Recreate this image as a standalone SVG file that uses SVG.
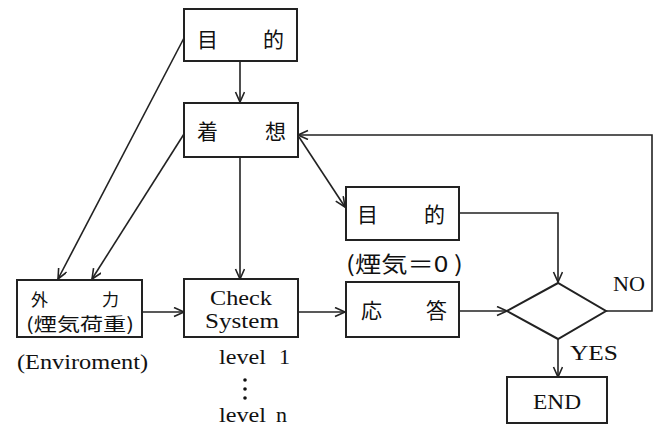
<svg xmlns="http://www.w3.org/2000/svg" width="657" height="426" viewBox="0 0 657 426">
<style>
.box{fill:#fff;stroke:#222;stroke-width:2}
.ln{fill:none;stroke:#222;stroke-width:1.6;marker-end:url(#ah)}
.jp{font-family:"Noto Sans CJK JP","Noto Sans CJK SC",sans-serif;fill:#111;dominant-baseline:central}
.en{font-family:"Liberation Serif","DejaVu Serif",serif;fill:#111}
</style>
<defs>
<marker id="ah" markerUnits="userSpaceOnUse" markerWidth="14" markerHeight="12" refX="11" refY="5" orient="auto">
<path d="M1,0.5 L11,5 L1,9.5" fill="none" stroke="#222" stroke-width="1.6"/>
</marker>
</defs>
<rect width="657" height="426" fill="#fff"/>
<g id="connectors">
<line class="ln" x1="240" y1="61" x2="240" y2="102"/>
<line class="ln" x1="184" y1="38" x2="58" y2="279"/>
<line class="ln" x1="184" y1="134" x2="92" y2="279"/>
<line class="ln" x1="240" y1="157" x2="240" y2="279"/>
<line class="ln" x1="299" y1="137" x2="345" y2="207"/>
<line class="ln" x1="142" y1="312" x2="184" y2="312"/>
<line class="ln" x1="298" y1="312" x2="345" y2="312"/>
<line class="ln" x1="459" y1="311" x2="507" y2="311"/>
<polyline class="ln" points="459,213 558,213 558,282"/>
<polyline class="ln" points="606,311 652,311 652,135 298,135"/>
<line class="ln" x1="558" y1="339" x2="558" y2="377"/>
</g>
<g id="goal1">
<rect class="box" x="184" y="9" width="113" height="52"/>
<text class="jp" x="197" y="38" font-size="21">目</text>
<text class="jp" x="263" y="38" font-size="21">的</text>
</g>
<g id="idea">
<rect class="box" x="184" y="103" width="114" height="54"/>
<text class="jp" x="197" y="130" font-size="21">着</text>
<text class="jp" x="265" y="130" font-size="21">想</text>
</g>
<g id="force">
<rect class="box" x="17" y="280" width="125" height="57"/>
<text class="jp" x="31" y="298" font-size="17">外</text>
<text class="jp" x="102" y="298" font-size="17">力</text>
<text class="jp" x="26" y="323" font-size="18" textLength="108" lengthAdjust="spacingAndGlyphs">(煙気荷重)</text>
<text class="en" x="17" y="369" font-size="21" textLength="131" lengthAdjust="spacingAndGlyphs">(Enviroment)</text>
</g>
<g id="check">
<rect class="box" x="184" y="279" width="114" height="58"/>
<text class="en" x="241" y="305" font-size="21" text-anchor="middle" textLength="62" lengthAdjust="spacingAndGlyphs">Check</text>
<text class="en" x="242" y="328" font-size="21" text-anchor="middle" textLength="74" lengthAdjust="spacingAndGlyphs">System</text>
<text class="en" x="219" y="364" font-size="22" textLength="47" lengthAdjust="spacingAndGlyphs">level</text>
<text class="en" x="279" y="364" font-size="22">1</text>
<circle cx="245" cy="380" r="1.8" fill="#111"/>
<circle cx="245" cy="389" r="1.8" fill="#111"/>
<circle cx="245" cy="398" r="1.8" fill="#111"/>
<text class="en" x="219" y="422" font-size="22" textLength="47" lengthAdjust="spacingAndGlyphs">level</text>
<text class="en" x="276" y="422" font-size="22">n</text>
</g>
<g id="goal2">
<rect class="box" x="346" y="187" width="113" height="53"/>
<text class="jp" x="357" y="213" font-size="21">目</text>
<text class="jp" x="424" y="213" font-size="21">的</text>
<text class="jp" x="346" y="262" font-size="22" textLength="117" lengthAdjust="spacingAndGlyphs">(煙気＝0 )</text>
</g>
<g id="response">
<rect class="box" x="346" y="282" width="113" height="55"/>
<text class="jp" x="361" y="309" font-size="21">応</text>
<text class="jp" x="426" y="309" font-size="21">答</text>
</g>
<g id="decision">
<polygon points="507,311 558,283 606,311 558,339" fill="#fff" stroke="#222" stroke-width="2"/>
<text class="en" x="613" y="291" font-size="21" textLength="32" lengthAdjust="spacingAndGlyphs">NO</text>
<text class="en" x="570" y="360" font-size="22" textLength="48" lengthAdjust="spacingAndGlyphs">YES</text>
</g>
<g id="end">
<rect class="box" x="507" y="377" width="100" height="46"/>
<text class="en" x="557" y="409" font-size="22" text-anchor="middle" textLength="48" lengthAdjust="spacingAndGlyphs">END</text>
</g>
</svg>
